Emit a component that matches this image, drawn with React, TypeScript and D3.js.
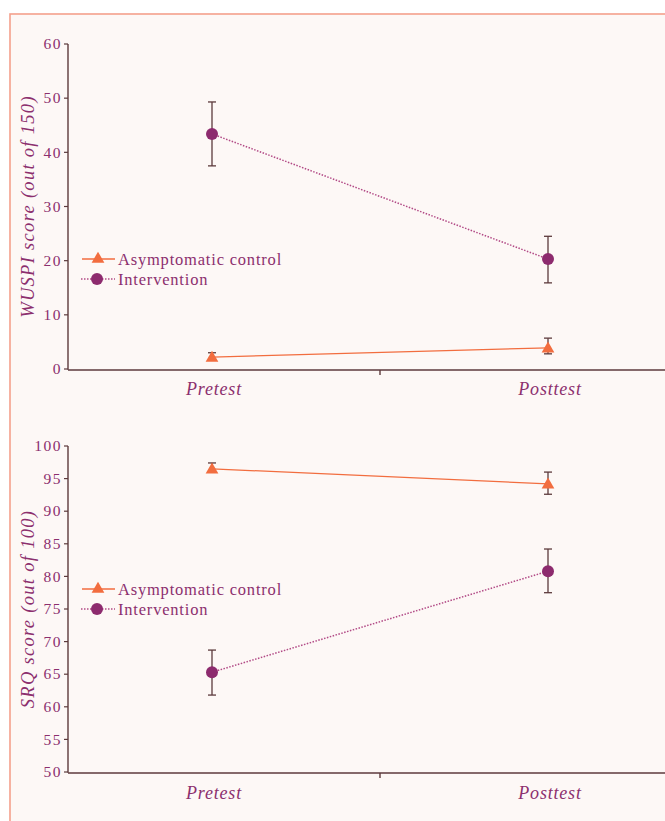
import React from "react"
import * as d3 from "d3"

const categories = ["Pretest", "Posttest"]

// WUSPI panel
const wuspiTicks = [0, 10, 20, 30, 40, 50, 60]
const wuspiControl = [2.2, 3.9]
const wuspiControlLo = [2.2, 2.8]
const wuspiControlHi = [3.0, 5.7]
const wuspiInterv = [43.4, 20.3]
const wuspiIntervLo = [37.5, 15.9]
const wuspiIntervHi = [49.3, 24.5]

// SRQ panel
const srqTicks = [50, 55, 60, 65, 70, 75, 80, 85, 90, 95, 100]
const srqControl = [96.5, 94.2]
const srqControlLo = [96.5, 92.6]
const srqControlHi = [97.4, 96.0]
const srqInterv = [65.3, 80.8]
const srqIntervLo = [61.8, 77.5]
const srqIntervHi = [68.7, 84.2]

const seriesNames = ["Asymptomatic control", "Intervention"]

const ORANGE = "#f26d3f"
const PURPLE = "#8d2b6e"
const DOTTED = "#b24a86"
const AXIS = "#5c3a3c"
const TEXT = "#8c2f6e"
const FONT = "'Liberation Serif', 'DejaVu Serif', serif"

const x = d3.scalePoint<string>().domain(categories).range([44, 716]).padding(0.5)
const tri = d3.symbol(d3.symbolTriangle, 70)()

function Panel(props: {
  y: d3.ScaleLinear<number, number>
  ticks: number[]
  label: string
  ctrl: number[]; ctrlLo: number[]; ctrlHi: number[]
  intv: number[]; intvLo: number[]; intvHi: number[]
  legendY: number
  catY: number
}) {
  const {y, ticks} = props
  const [y0, y1] = y.range()
  const axisX = 68
  const line = d3.line<number>().x((_, i) => x(categories[i])!).y(d => y(d))
  const mid = (x(categories[0])! + x(categories[1])!) / 2
  const err = (lo: number[], hi: number[], mean: number[]) =>
    categories.map((c, i) => (
      <g key={c} stroke={AXIS} strokeWidth={1.3}>
        <line x1={x(c)} x2={x(c)} y1={y(lo[i])} y2={y(hi[i])} />
        <line x1={x(c)! - 4} x2={x(c)! + 4} y1={y(hi[i])} y2={y(hi[i])} />
        {lo[i] !== mean[i] ? (
          <line x1={x(c)! - 4} x2={x(c)! + 4} y1={y(lo[i])} y2={y(lo[i])} />
        ) : null}
      </g>
    ))
  return (
    <g>
      {/* y axis */}
      <line x1={axisX} x2={axisX} y1={y0 + 0.7} y2={y1} stroke={AXIS} strokeWidth={1.4} />
      {ticks.map(t => (
        <g key={t}>
          <line x1={axisX - 4} x2={axisX} y1={y(t)} y2={y(t)} stroke={AXIS} strokeWidth={1.2} />
          <text x={axisX - 6} y={y(t)} dy="0.34em" textAnchor="end" fontSize={15.5} letterSpacing={1.5}
            fill={TEXT} fontFamily={FONT}>
            {t}
          </text>
        </g>
      ))}
      <text
        transform={`translate(34,${(y0 + y1) / 2}) rotate(-90)`}
        textAnchor="middle"
        fontSize={18.5}
        letterSpacing={1.3}
        fontStyle="italic"
        fill={TEXT}
        fontFamily={FONT}
      >
        {props.label}
      </text>
      {/* x axis */}
      <line x1={axisX} x2={665} y1={y0 + 1} y2={y0 + 1} stroke={AXIS} strokeWidth={1.6} />
      <line x1={mid} x2={mid} y1={y0 + 1} y2={y0 + 6} stroke={AXIS} strokeWidth={1.4} />
      {categories.map(c => (
        <text key={c} x={x(c)! + 2} y={props.catY} textAnchor="middle" fontSize={18} fontStyle="italic"
          letterSpacing={0.8} fill={TEXT} fontFamily={FONT}>
          {c}
        </text>
      ))}
      {/* lines */}
      <path d={line(props.ctrl)!} fill="none" stroke={ORANGE} strokeWidth={1.3} />
      <path d={line(props.intv)!} fill="none" stroke={DOTTED} strokeWidth={1.5} strokeDasharray="1.5,1.5" />
      {err(props.ctrlLo, props.ctrlHi, props.ctrl)}
      {err(props.intvLo, props.intvHi, props.intv)}
      {categories.map((c, i) => (
        <g key={c}>
          <path d={tri!} transform={`translate(${x(c)},${y(props.ctrl[i]) + 1})`} fill={ORANGE} />
          <circle cx={x(c)} cy={y(props.intv[i])} r={6} fill={PURPLE} />
        </g>
      ))}
      {/* legend */}
      <g fontFamily={FONT} fontSize={16.5} letterSpacing={0.8} fill={TEXT}>
        <line x1={82} x2={115} y1={props.legendY} y2={props.legendY} stroke={ORANGE} strokeWidth={1.3} />
        <path d={tri!} transform={`translate(98,${props.legendY})`} fill={ORANGE} />
        <text x={118} y={props.legendY} dy="0.34em">{seriesNames[0]}</text>
        <line x1={81} x2={115} y1={props.legendY + 20} y2={props.legendY + 20} stroke={DOTTED}
          strokeWidth={1.5} strokeDasharray="1.5,1.5" />
        <circle cx={97} cy={props.legendY + 20} r={6} fill={PURPLE} />
        <text x={118} y={props.legendY + 20} dy="0.34em">{seriesNames[1]}</text>
      </g>
    </g>
  )
}

export default function App() {
  const yTop = d3.scaleLinear().domain([0, 60]).range([369, 44])
  const yBot = d3.scaleLinear().domain([50, 100]).range([772, 446])
  return (
    <svg width={665} height={821} style={{position: "absolute", left: 0, top: 0, background: "#fff"}}>
      <rect x={10} y={14} width={700} height={850} fill="#fdf8f6" stroke="#f4a08c" strokeWidth={1.6} />
      <Panel y={yTop} ticks={wuspiTicks} label="WUSPI score (out of 150)"
        ctrl={wuspiControl} ctrlLo={wuspiControlLo} ctrlHi={wuspiControlHi}
        intv={wuspiInterv} intvLo={wuspiIntervLo} intvHi={wuspiIntervHi}
        legendY={259} catY={395} />
      <Panel y={yBot} ticks={srqTicks} label="SRQ score (out of 100)"
        ctrl={srqControl} ctrlLo={srqControlLo} ctrlHi={srqControlHi}
        intv={srqInterv} intvLo={srqIntervLo} intvHi={srqIntervHi}
        legendY={589} catY={799} />
    </svg>
  )
}
